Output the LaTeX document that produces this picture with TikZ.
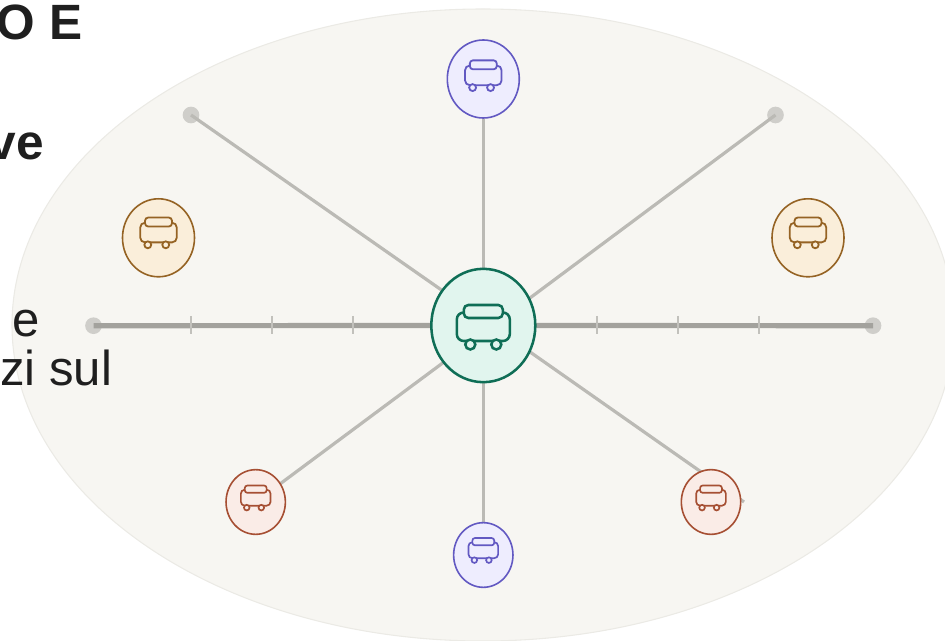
\documentclass[tikz,border=0pt]{standalone}
\usepackage{fontspec}
\setmainfont{Liberation Sans}
\usetikzlibrary{shapes.geometric}
\pgfdeclarelayer{back}
\pgfsetlayers{back,main}
\definecolor{txt}{HTML}{1F1F1F}
\definecolor{bgfill}{HTML}{F7F6F2}
\definecolor{bgline}{HTML}{EBEAE5}
\definecolor{spokec}{HTML}{BBBAB5}
\definecolor{axisc}{HTML}{A3A29D}
\definecolor{tickc}{HTML}{C2C1BC}
\definecolor{dotc}{HTML}{CFCECA}
\definecolor{gfill}{HTML}{E1F5EE}\definecolor{gline}{HTML}{0F6E56}
\definecolor{pfill}{HTML}{EEEDFE}\definecolor{pline}{HTML}{6259C2}
\definecolor{ofill}{HTML}{FAEEDA}\definecolor{oline}{HTML}{956324}
\definecolor{rfill}{HTML}{FAECE7}\definecolor{rline}{HTML}{A64F33}
\tikzset{
  x=0.75pt,y=-0.75pt,
  stop/.style={ellipse,draw=#1,line width=1.2pt,inner sep=0pt,minimum width=54pt,minimum height=58.5pt},
  small/.style={ellipse,draw=#1,line width=1.2pt,inner sep=0pt,minimum width=44.5pt,minimum height=48.5pt},
  hub/.style={ellipse,draw=gline,fill=gfill,line width=1.9pt,inner sep=0pt,minimum width=78pt,minimum height=85pt},
  enddot/.style={circle,fill=dotc,inner sep=0pt,minimum size=12.5pt},
  spoke/.style={spokec,line width=2.4pt},
  axis/.style={axisc,line width=3.9pt},
  tick/.style={tickc,line width=1pt},
  label/.style={inner sep=0pt,text=txt,font=\fontsize{36.8pt}{36.8pt}\selectfont,anchor=base east},
}
% icon: #1 x, #2 y, #3 scale, #4 line colour, #5 line width, #6 node fill, #7 wheel shift
\newcommand{\busicon}[7]{%
  \pgfmathsetmacro{\bodyr}{5.2*#3}%
  \pgfmathsetmacro{\cushr}{3.4*#3}%
  \begin{scope}[shift={(#1,#2)},scale=#3,draw=#4,line width=#5,fill=none]
    \draw[rounded corners=\bodyr pt] (-26.5,-13) rectangle (26.5,15.5);
    \draw[rounded corners=\cushr pt,fill=#6] (-19.5,-20.5) rectangle (19.5,-7.5);
    \draw[fill=#6] ({-13+#7},19) circle[radius=5];
    \draw[fill=#6] ({13+#7},19) circle[radius=5];
  \end{scope}}
\begin{document}
\begin{tikzpicture}
\useasboundingbox (0,0) rectangle (945,641);
\clip (0,0) rectangle (945,641);
\node[hub] (c) at (483.3,325.5) {};
\node[stop=pline,fill=pfill] (n) at (483.3,79) {};
\node[stop=oline,fill=ofill] (wn) at (158.5,237.8) {};
\node[stop=oline,fill=ofill] (en) at (808,237.8) {};
\node[small=rline,fill=rfill] (ws) at (255.7,502) {};
\node[small=rline,fill=rfill] (es) at (711,502) {};
\node[small=pline,fill=pfill] (s) at (483.3,555) {};
\begin{pgfonlayer}{back}
  \fill[bgfill,draw=bgline,line width=0.8pt] (483,325) ellipse[x radius=471,y radius=316];
  \node[enddot] (dnw) at (191,115) {};
  \node[enddot] (dne) at (775.5,115) {};
  \node[enddot] (dw) at (93.5,325.7) {};
  \node[enddot] (de) at (873,325.7) {};
  \coordinate (tail) at (744,502);
  \coordinate (hubA) at (483,319);
  \coordinate (hubB) at (483,333);
  \draw[axis] (dw.center) -- (c.center);
  \draw[axis] (de.center) -- (c.center);
  \foreach \tx in {191,272,353,597,678,759} \draw[tick] (\tx,316) -- (\tx,334.5);
  \draw[spoke] (c) -- (n);
  \draw[spoke] (c) -- (s);
  \draw[spoke] (hubA) -- (dnw.center);
  \draw[spoke] (hubB) -- (dne.center);
  \draw[spoke] (hubB) -- (ws.center);
  \draw[spoke] (hubA) -- (tail);
\end{pgfonlayer}
\busicon{483.3}{325.5}{1}{gline}{1.9pt}{gfill}{0}
\busicon{483.3}{74.5}{0.69}{pline}{1.35pt}{pfill}{-2.5}
\busicon{158.5}{231.7}{0.69}{oline}{1.35pt}{ofill}{-2.5}
\busicon{808}{231.7}{0.69}{oline}{1.35pt}{ofill}{-2.5}
\busicon{255.7}{497}{0.56}{rline}{1.25pt}{rfill}{-3}
\busicon{711}{497}{0.56}{rline}{1.25pt}{rfill}{-3}
\busicon{483.3}{549.5}{0.56}{pline}{1.25pt}{pfill}{-3}
\node[label,font=\fontsize{37.2pt}{37.2pt}\selectfont\bfseries] (t1) at (82.5,40) {O E};
\node[label,font=\fontsize{37.2pt}{37.2pt}\selectfont\bfseries] (t2) at (44,160) {ve};
\node[label] (t3) at (40,336.5) {e};
\node[label] (t4) at (112.5,385.5) {zi sul};
\end{tikzpicture}
\end{document}
